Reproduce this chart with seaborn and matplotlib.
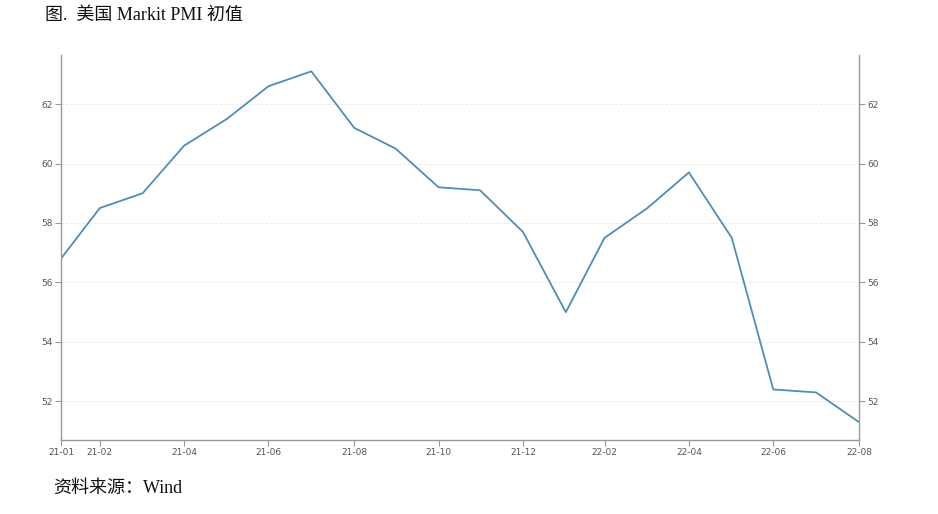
import pandas as pd
import matplotlib.pyplot as plt
import matplotlib.dates as mdates
import seaborn as sns

# Markit PMI flash values, monthly
months = ['2021-01', '2021-02', '2021-03', '2021-04', '2021-05', '2021-06', '2021-07',
          '2021-08', '2021-09', '2021-10', '2021-11', '2021-12', '2022-01', '2022-02',
          '2022-03', '2022-04', '2022-05', '2022-06', '2022-07', '2022-08']
pmi = [56.8, 58.5, 59.0, 60.6, 61.5, 62.6, 63.1, 61.2, 60.5, 59.2, 59.1, 57.7,
       55.0, 57.5, 58.5, 59.7, 57.5, 52.4, 52.3, 51.3]
tick_months = ['2021-01', '2021-02', '2021-04', '2021-06', '2021-08', '2021-10',
               '2021-12', '2022-02', '2022-04', '2022-06', '2022-08']
yticks = [52, 54, 56, 58, 60, 62]

df = pd.DataFrame({'date': pd.to_datetime(months) + pd.offsets.MonthEnd(0), 'pmi': pmi})
tick_dates = pd.to_datetime(tick_months) + pd.offsets.MonthEnd(0)

sns.set_style('white')
plt.rcParams['font.family'] = ['Noto Sans CJK SC', 'DejaVu Sans']

fig = plt.figure(figsize=(9.38, 5.14), dpi=100)
ax = fig.add_axes([61 / 938, 1 - 440 / 514, 798 / 938, 385 / 514])

sns.lineplot(data=df, x='date', y='pmi', ax=ax, color='#4f8db5', linewidth=1.3)

ax.set_xlim(df['date'].iloc[0], df['date'].iloc[-1])
ax.set_ylim(50.7, 63.65)
ax.set_xticks(tick_dates)
ax.xaxis.set_major_formatter(mdates.DateFormatter('%y-%m'))
ax.set_yticks(yticks)
ax.set_xlabel('')
ax.set_ylabel('')
ax.grid(axis='y', color='#e6e6e6', linewidth=0.6, linestyle=(0, (3, 2)))

ax.spines['top'].set_visible(False)
for side in ['left', 'bottom', 'right']:
    ax.spines[side].set_color('#9a9a9a')
    ax.spines[side].set_linewidth(1)

ax.tick_params(axis='both', which='both', length=4, width=0.8, color='#9a9a9a',
               labelsize=6.5, labelcolor='#555555', direction='out', pad=2)
ax.tick_params(axis='y', left=True, right=True, labelleft=True, labelright=True)
ax.tick_params(axis='x', bottom=True)
for lbl in ax.get_xticklabels() + ax.get_yticklabels() + ax.yaxis.get_ticklabels(which='both'):
    lbl.set_family('DejaVu Sans')
for t in ax.yaxis.get_major_ticks():
    t.label2.set_family('DejaVu Sans')

serif = ['Liberation Serif', 'Noto Sans CJK SC']
fig.text(45 / 938, 1 - 15 / 514, '图.  美国 Markit PMI 初值', fontsize=13,
         family=serif, color='#111111', va='center', ha='left')
fig.text(53 / 938, 1 - 488 / 514, '资料来源：Wind', fontsize=13,
         family=serif, color='#111111', va='center', ha='left')

fig.savefig('out.png', dpi=100, facecolor='white')
